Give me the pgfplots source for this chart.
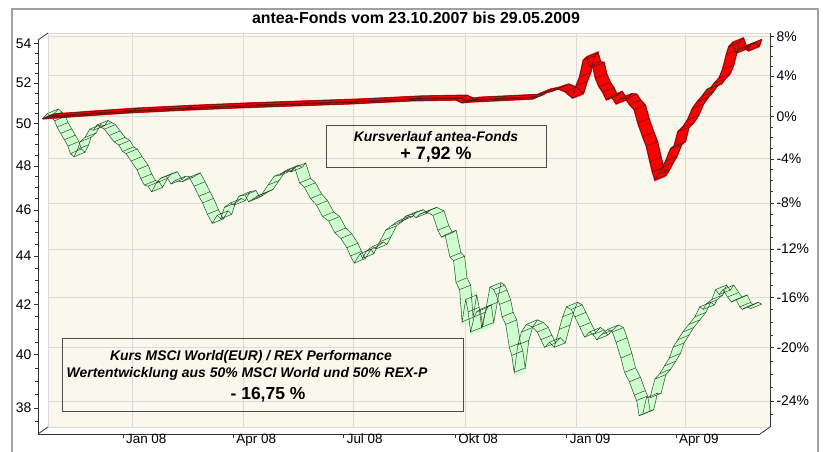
\documentclass[border=0pt]{standalone}
\usepackage{pgfplots}
\pgfplotsset{compat=1.18}
\usepackage{pgfplotstable}
\usepackage{fontspec}
\setmainfont{Liberation Sans}
\definecolor{wall}{RGB}{250,248,237}
\definecolor{mint}{RGB}{204,255,204}
\definecolor{gridc}{RGB}{218,218,218}
\definecolor{frameg}{RGB}{160,160,160}
\definecolor{darkred}{RGB}{120,10,10}
\pgfdeclareplotmark{depth}{%
  \pgfpathmoveto{\pgfqpoint{-5.5bp}{-2.25bp}}%
  \pgfpathlineto{\pgfqpoint{5.5bp}{2.25bp}}%
  \pgfusepathqstroke}

\pgfplotstableread{
d v
0 50.00
4 50.25
7 50.10
10 49.90
12 49.60
15 49.30
18 49.00
21 48.70
23 48.35
26 48.20
29 48.55
31 48.90
35 49.10
39 49.50
42 49.45
45 49.70
48 49.60
51 49.50
55 49.20
59 48.90
63 48.75
66 48.45
69 48.35
73 48.00
78 47.60
81 47.20
84 46.90
87 46.85
90 46.60
94 47.00
97 47.20
102 47.30
106 46.95
109 47.10
115 47.05
121 47.25
125 46.85
129 46.40
132 46.10
136 45.60
140 45.20
144 45.55
147 45.40
150 45.90
155 46.10
158 46.00
162 46.40
167 46.45
170 46.15
173 46.25
177 46.40
181 46.50
186 46.90
191 47.30
196 47.35
199 47.50
202 47.60
205 47.50
208 47.70
212 47.00
216 46.80
221 46.30
226 46.00
231 45.50
236 45.30
241 44.80
246 44.55
251 44.15
254 43.80
257 43.50
262 43.90
264 43.70
267 44.00
272 44.20
275 44.10
278 44.40
283 44.90
288 45.10
293 45.30
296 45.30
299 45.50
305 45.60
308 45.45
311 45.60
316 45.70
322 45.55
326 44.90
329 44.60
332 44.70
336 43.75
339 43.60
341 42.70
344 42.40
346 41.10
349 42.00
351 41.50
353 40.70
356 41.30
358 41.50
361 41.60
363 40.90
366 41.70
369 42.50
372 42.40
374 42.20
377 41.80
379 41.30
382 41.00
385 40.10
387 39.80
389 39.15
392 40.20
395 40.70
399 41.00
404 40.90
408 40.70
411 40.40
414 40.10
418 40.30
422 40.10
426 40.80
429 41.30
432 41.70
436 41.60
439 41.30
443 40.90
447 40.50
451 40.70
454 40.60
457 40.40
461 40.60
466 40.80
470 40.70
473 40.30
477 39.70
480 39.15
484 38.80
488 38.30
490 38.10
492 37.55
495 37.60
498 38.20
501 38.20
505 38.90
509 39.10
513 39.40
517 39.70
520 40.10
524 40.40
528 40.70
533 41.00
538 41.30
542 41.70
545 41.60
547 41.80
552 42.00
555 42.40
558 42.20
561 42.40
565 42.10
568 41.90
572 42.00
575 41.70
577 41.60
581 41.70
584 41.63
}\greendata

\pgfplotstableread{
d v
0 50.00
35 50.15
70 50.29
115 50.42
162 50.54
210 50.64
253 50.73
304 50.88
341 50.92
346 50.78
352 50.82
373 50.88
404 50.97
410 51.22
418 51.32
425 51.47
431 51.32
437 51.02
440 51.60
443 52.06
446 52.90
449 53.07
451 52.60
454 52.56
456 52.00
459 51.57
462 51.30
465 50.93
469 51.10
473 50.73
477 51.00
481 50.97
484 50.70
488 50.44
491 49.80
495 49.14
498 48.70
501 47.96
503 47.50
505 47.14
508 47.40
511 47.72
514 48.00
518 48.57
521 48.70
524 49.38
528 49.60
532 49.95
536 50.50
540 50.83
544 51.10
548 51.43
551 51.50
554 51.74
558 52.00
561 52.46
564 53.20
566 53.60
569 53.80
572 53.28
575 53.50
579 53.55
582 53.40
584 53.75
}\reddata

\begin{document}
\begin{tikzpicture}
\path[use as bounding box] (0bp,0bp) rectangle (823bp,452bp);
\draw[frameg, line width=2bp] (12bp,-5bp) -- (12bp,443bp) -- (818bp,443bp) -- (818bp,-5bp);

% wall with data
\begin{axis}[scale only axis, width=722bp, height=394bp,
  xmin=0, xmax=595.4, ymode=log, ymin=37.06, ymax=54.2,
  at={(48bp,25bp)}, anchor=south west,
  axis background/.style={fill=wall},
  axis line style={gridc, line width=0.8bp},
  xtick={70,161,252,344,436,526}, ytick={38,40,42,44,46,48,50,52,54},
  xticklabels={}, yticklabels={},
  grid=major, major grid style={gridc, line width=0.8bp},
  major tick length=0pt, clip=false]
\pgfplotsinvokeforeach{0,...,11}{
  \addplot[mint, line width=1.6bp, mark=none, xshift={(#1-5.5)*1bp}, yshift={(#1-5.5)*0.41bp}] table {\greendata};
}
\addplot[black!85, line width=0.4bp, mark=none, xshift=-5.5bp, yshift=-2.25bp] table {\greendata};
\addplot[black!85, line width=0.4bp, mark=none, xshift=5.5bp, yshift=2.25bp] table {\greendata};
\addplot[only marks, mark=depth, mark options={black!85, line width=0.4bp}] table {\greendata};

\pgfplotsinvokeforeach{0,...,11}{
  \addplot[red, line width=1.6bp, mark=none, xshift={(#1-5.5)*1bp}, yshift={(#1-5.5)*0.41bp}] table {\reddata};
}
\addplot[darkred, line width=1.6bp, mark=none, xshift=-1bp, yshift=-0.4bp] table[row sep=\\] {d v\\ 0 50.00\\ 35 50.15\\ 70 50.29\\ 115 50.42\\ 162 50.54\\ 210 50.64\\ 253 50.73\\ 304 50.88\\ 341 50.92\\ 346 50.78\\ 352 50.82\\ 373 50.88\\ 404 50.97\\};
\addplot[black!85, line width=0.5bp, mark=none, xshift=-5.5bp, yshift=-2.25bp] table {\reddata};
\addplot[black!85, line width=0.5bp, mark=none, xshift=5.5bp, yshift=2.25bp] table {\reddata};
\addplot[only marks, mark=depth, mark options={black!85, line width=0.4bp}] table {\reddata};
\end{axis}

% right percent axis
\begin{axis}[scale only axis, width=722bp, height=394bp,
  xmin=0, xmax=595.4, ymode=log, ymin=37.06, ymax=54.2,
  at={(48bp,25bp)}, anchor=south west,
  axis y line*=right, axis x line=none,
  axis line style={black!80, line width=0.8bp},
  ytick={38,40,42,44,46,48,50,52,54},
  yticklabels={-24\%,-20\%,-16\%,-12\%,-8\%,-4\%,0\%,4\%,8\%},
  minor ytick={37.5,38.5,39,39.5,40.5,41,41.5,42.5,43,43.5,44.5,45,45.5,46.5,47,47.5,48.5,49,49.5,50.5,51,51.5,52.5,53,53.5},
  tick align=outside, major tick length=4bp, minor tick length=2.5bp,
  tick style={black!80, line width=0.6bp},
  yticklabel style={font=\fontsize{14}{16}\selectfont, anchor=west, xshift=-1bp}]
\end{axis}

% front axis
\begin{axis}[scale only axis, width=722bp, height=394bp,
  xmin=0, xmax=595.4, ymode=log, ymin=37.06, ymax=54.2,
  at={(38bp,18bp)}, anchor=south west,
  axis x line*=bottom, axis y line*=left,
  axis line style={black!80, line width=0.8bp},
  xtick={70,161,252,344,436,526},
  xticklabels={Jan 08,Apr 08,Jul 08,Okt 08,Jan 09,Apr 09},
  ytick={38,40,42,44,46,48,50,52,54},
  yticklabels={38,40,42,44,46,48,50,52,54},
  minor ytick={37.5,38.5,39,39.5,40.5,41,41.5,42.5,43,43.5,44.5,45,45.5,46.5,47,47.5,48.5,49,49.5,50.5,51,51.5,52.5,53,53.5},
  tick align=outside, major tick length=4bp, minor tick length=2.5bp,
  tick style={black!80, line width=0.6bp},
  xticklabel style={font=\fontsize{13.5}{15}\selectfont, anchor=north west, xshift=2bp, yshift=5bp, inner sep=1bp},
  yticklabel style={font=\fontsize{14}{16}\selectfont, anchor=east, xshift=1bp}]
\end{axis}

\draw[black!80, line width=0.8bp] (38bp,412bp) -- (48bp,419bp);
\draw[black!80, line width=0.8bp] (38bp,18bp) -- (48bp,25bp);
\draw[black!80, line width=0.8bp] (760bp,18bp) -- (770bp,25bp);

\node[font=\bfseries\fontsize{16}{18}\selectfont] at (416bp,434bp) {antea-Fonds vom 23.10.2007 bis 29.05.2009};

\draw[black!70, line width=0.8bp] (326bp,285bp) rectangle (546bp,327bp);
\node[font=\bfseries\itshape\fontsize{14}{16}\selectfont] at (436bp,315bp) {Kursverlauf antea-Fonds};
\node[font=\bfseries\fontsize{18}{20}\selectfont] at (436bp,297bp) {+ 7,92 \%};

\draw[black!70, line width=0.8bp] (62bp,41bp) rectangle (463bp,114bp);
\node[font=\bfseries\itshape\fontsize{14}{16}\selectfont] at (251bp,95bp) {Kurs MSCI World(EUR) / REX Performance};
\node[font=\bfseries\itshape\fontsize{14}{16}\selectfont] at (247bp,78bp) {Wertentwicklung aus 50\% MSCI World und 50\% REX-P};
\node[font=\bfseries\fontsize{17.5}{20}\selectfont] at (268bp,57bp) {- 16,75 \%};
\end{tikzpicture}
\end{document}
